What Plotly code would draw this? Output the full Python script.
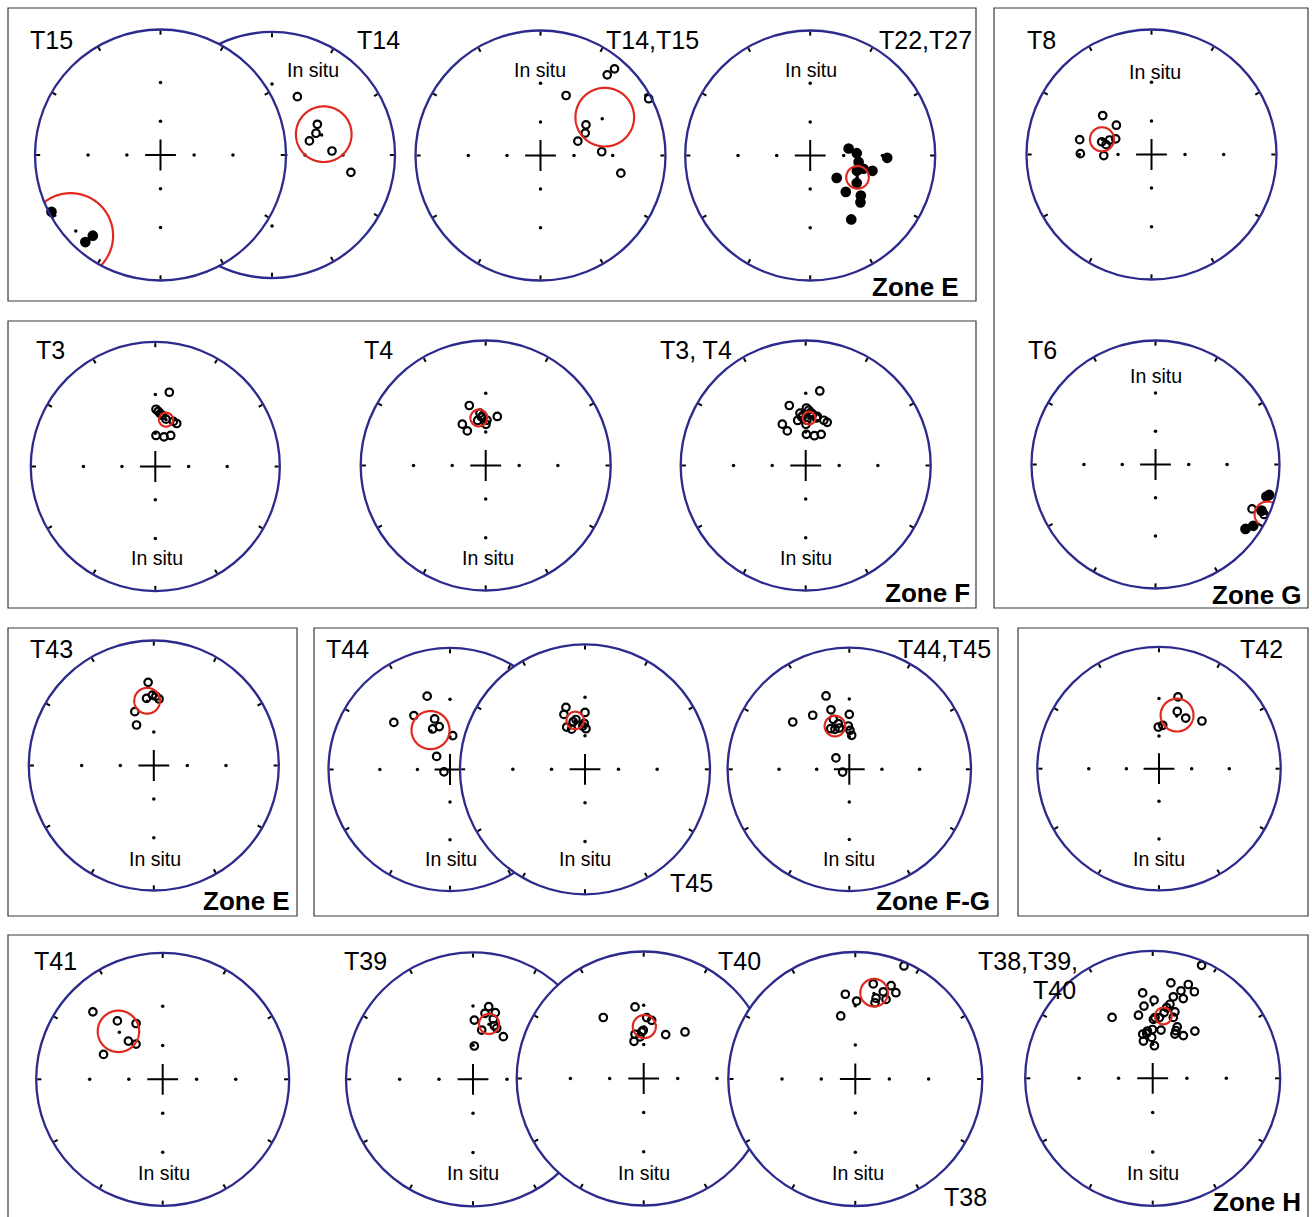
import math
import numpy as np
import plotly.graph_objects as go

# ---------------- DATA (declination, inclination in degrees; negative inc = upper hemisphere) ----------
T15_dec = [242.5, 220.0, 220.8]
T15_inc = [1.2, 10.0, 5.0]
T15_mean = [228.1, 5.6, 20.5]          # dec, inc, alpha95

T14_dec = [23.5, 55.9, 63.7, 69.4, 86.2, 102.4]
T14_inc = [-35.3, -42.0, -46.5, -54.0, -37.9, -23.4]
T14_mean = [68.1, -43.0, 21.4]

T14T15_dec = [39.6, 40.5, 23.1, 62.3, 56.0, 63.4, 69.0, 86.5, 102.4]
T14T15_inc = [-10.1, -5.3, -34.9, -1.3, -42.6, -46.4, -54.5, -37.7, -23.3]
T14T15_mean = [59.2, -30.2, 19.8]

T22T27_dec = [79.7, 87.2, 91.7, 97.8, 104.0, 108.2, 103.8, 130.2, 120.6, 135.6, 128.3, 133.0, 147.3]
T22T27_inc = [55.3, 49.1, 26.7, 47.3, 42.6, 47.1, 35.7, 59.0, 43.2, 45.7, 35.4, 32.4, 27.4]
T22T27_mean = [114.8, 45.0, 8.8]

T8_dec = [308.6, 309.8, 281.7, 284.3, 282.2, 289.1, 293.6, 270.7, 268.7]
T8_inc = [-36.9, -49.8, -29.2, -45.3, -49.2, -50.9, -55.3, -30.7, -48.2]
T8_mean = [287.1, -45.3, 9.4]

T6_dec = [105.0, 106.1, 114.7, 113.5, 114.7, 122.1, 125.6]
T6_inc = [3.0, 4.1, -8.8, 4.0, -2.1, 4.1, 6.5]
T6_mean = [114.0, -1.0, 6.0]

T3_dec = [10.7, 0.7, 3.1, 5.4, 7.8, 12.7, 21.8, 26.5, 1.3, 16.3, 26.4]
T3_inc = [-27.5, -40.6, -42.2, -43.8, -45.0, -47.4, -47.4, -47.8, -62.0, -62.1, -58.9]
T3_mean = [12.9, -47.9, 5.6]

T4_dec = [344.7, 353.8, 356.6, 355.3, 0.4, 330.5, 332.0, 13.3, 1.6, 349.9]
T4_inc = [-37.1, -44.3, -46.4, -47.6, -53.5, -48.4, -55.2, -46.1, -50.2, -49.8]
T4_mean = [351.8, -48.1, 6.7]

T3T4_mean = [4.1, -48.4, 5.1]

T43_dec = [356.1, 353.8, 358.9, 1.7, 4.5, 340.6, 336.9]
T43_inc = [-22.6, -33.2, -31.2, -32.0, -33.8, -40.9, -51.2]
T43_mean = [354.1, -35.4, 9.3]

T44_dec = [342.7, 326.2, 310.0, 343.1, 345.9, 336.8, 4.6, 314.3, 249.0]
T44_inc = [-25.4, -33.8, -27.8, -43.0, -50.0, -50.1, -58.8, -72.5, -83.9]
T44_mean = [333.7, -51.0, 15.8]

T45_dec = [342.9, 339.0, 0.0, 349.7, 346.1, 359.0, 336.5, 341.6, 1.4, 357.0]
T45_inc = [-35.2, -39.6, -41.1, -45.9, -47.2, -49.7, -49.6, -52.6, -54.0, -51.8]
T45_mean = [348.7, -46.7, 6.9]

T44T45_dec = [342.4, 325.9, 309.9, 342.9, 0.0, 342.3, 346.4, 358.7, 1.0, 4.0, 335.4, 340.3, 346.4, 310.4, 247.8]
T44T45_inc = [-25.4, -33.6, -27.6, -35.8, -41.4, -43.4, -47.8, -50.8, -54.5, -58.7, -49.7, -51.5, -51.5, -73.6, -83.2]
T44T45_mean = [341.6, -49.2, 8.5]

T42_dec = [14.8, 17.7, 27.8, 42.0, 359.0, 4.9]
T42_inc = [-27.2, -37.4, -39.6, -34.4, -52.2, -50.6]
T42_mean = [18.6, -40.8, 12.7]

T41_dec = [314.0, 322.2, 334.5, 318.1, 322.9, 292.8]
T41_inc = [-15.0, -29.4, -37.9, -45.8, -51.5, -36.2]
T41_mean = [317.3, -36.4, 14.8]

T39_dec = [12.2, 10.3, 18.5, 18.6, 1.3, 10.0, 24.9, 35.4, 2.2, 21.7]
T39_inc = [-29.3, -34.3, -32.1, -36.8, -40.0, -47.0, -42.2, -45.2, -60.6, -41.2]
T39_mean = [16.2, -41.4, 7.5]

T40_dec = [353.1, 326.5, 2.8, 7.8, 359.5, 348.9, 354.9, 345.4, 26.6, 41.6, 357.5]
T40_inc = [-30.8, -30.1, -38.7, -40.4, -48.4, -50.9, -53.6, -56.3, -47.7, -37.8, -49.7]
T40_mean = [0.7, -45.8, 8.9]

T38_dec = [23.3, 10.7, 21.0, 25.2, 17.8, 353.3, 1.0, 14.4, 21.1, 14.5, 347.0]
T38_inc = [-1.8, -15.4, -13.6, -16.2, -18.4, -22.2, -26.9, -23.4, -22.2, -26.4, -36.0]
T38_mean = [12.3, -20.8, 8.4]

T383940_dec = [23.4, 10.8, 20.8, 353.3, 17.9, 25.7, 1.0, 14.2, 21.0, 353.1, 13.1, 347.3, 326.3,
               9.8, 18.5, 0.7, 6.3, 18.7, 25.5, 26.0, 359.6, 9.8, 41.8, 353.6, 347.3, 26.7, 35.7,
               358.6, 346.0, 3.0, 352.4, 2.2, 11.2]
T383940_inc = [-2.0, -15.4, -13.6, -22.0, -18.4, -16.0, -27.0, -23.2, -22.4, -30.6, -28.4, -36.2, -30.3,
               -34.8, -32.4, -40.4, -38.8, -36.5, -41.8, -44.9, -48.1, -48.0, -37.2, -49.1, -50.9, -47.6, -45.2,
               -54.4, -56.5, -61.3, -50.9, -39.0, -31.0]
T383940_mean = [9.7, -37.4, 6.0]

NET_GRID_INC = [60, 30]              # reference dots along the cardinal axes
NET_GRID_DEC = [0, 90, 180, 270]

# ---------------- LAYOUT TABLE (pixel centre, radius) ----------------
W, H = 1312, 1217
NAVY = "#2c2a8c"
RED = "#e0281e"
FONT = "Liberation Sans, Arial, sans-serif"

# order matters: later nets are drawn over earlier ones
nets = [
    ("T14", T14_dec, T14_inc, T14_mean, (272, 155, 123)),
    ("T15", T15_dec, T15_inc, T15_mean, (160.5, 155, 125.5)),
    ("T44", T44_dec, T44_inc, T44_mean, (450, 769.5, 121.5)),
    ("T45", T45_dec, T45_inc, T45_mean, (585, 769.3, 125)),
    ("T39", T39_dec, T39_inc, T39_mean, (473, 1079.3, 127)),
    ("T40", T40_dec, T40_inc, T40_mean, (643.7, 1078.5, 127)),
    ("T38", T38_dec, T38_inc, T38_mean, (855.3, 1079, 127)),
    ("T14,T15", T14T15_dec, T14T15_inc, T14T15_mean, (540.5, 155.5, 125)),
    ("T22,T27", T22T27_dec, T22T27_inc, T22T27_mean, (810.2, 155.5, 125)),
    ("T8", T8_dec, T8_inc, T8_mean, (1151.5, 154.5, 125)),
    ("T6", T6_dec, T6_inc, T6_mean, (1155.5, 464.5, 124)),
    ("T3", T3_dec, T3_inc, T3_mean, (155.3, 466.5, 124.5)),
    ("T4", T4_dec, T4_inc, T4_mean, (485.7, 465.5, 125)),
    ("T3, T4", T3_dec + T4_dec, T3_inc + T4_inc, T3T4_mean, (805.7, 465.5, 125)),
    ("T43", T43_dec, T43_inc, T43_mean, (153.8, 765.5, 125)),
    ("T44,T45", T44T45_dec, T44T45_inc, T44T45_mean, (849.3, 769.3, 121.7)),
    ("T42", T42_dec, T42_inc, T42_mean, (1159, 768.7, 121.7)),
    ("T41", T41_dec, T41_inc, T41_mean, (162.7, 1079.3, 126.5)),
    ("T38,T39,T40", T383940_dec, T383940_inc, T383940_mean, (1152.7, 1078.3, 127.5)),
]


def proj(inc):
    """Stereographic (equal-angle) radial distance for an inclination."""
    return math.tan(math.radians((90.0 - abs(inc)) / 2.0))


def small_circle(dec, inc, a95, n=361):
    D, I, a = math.radians(dec), math.radians(inc), math.radians(a95)
    m = np.array([math.cos(I) * math.cos(D), math.cos(I) * math.sin(D), math.sin(I)])
    ref = np.array([0.0, 0.0, 1.0]) if abs(m[2]) < 0.9 else np.array([1.0, 0.0, 0.0])
    u = np.cross(m, ref)
    u /= np.linalg.norm(u)
    v = np.cross(m, u)
    sign = 1 if inc >= 0 else -1
    rr, th = [], []
    for t in np.linspace(0, 2 * np.pi, n):
        p = math.cos(a) * m + math.sin(a) * (math.cos(t) * u + math.sin(t) * v)
        pi = math.degrees(math.asin(max(-1.0, min(1.0, p[2]))))
        pd = math.degrees(math.atan2(p[1], p[0])) % 360
        if pi * sign < -1e-9:
            rr.append(None)
            th.append(None)
        else:
            rr.append(proj(pi))
            th.append(pd)
    return rr, th


fig = go.Figure()
layout_polars = {}

for k, (name, decs, incs, mean, (cx, cy, R)) in enumerate(nets):
    pid = "polar" if k == 0 else f"polar{k + 1}"
    layout_polars[pid] = dict(
        domain=dict(x=[(cx - R) / W, (cx + R) / W], y=[1 - (cy + R) / H, 1 - (cy - R) / H]),
        bgcolor="white",
        radialaxis=dict(visible=False, range=[0, 1]),
        angularaxis=dict(rotation=90, direction="clockwise", dtick=30, ticks="inside",
                         ticklen=4, tickwidth=1.6, tickcolor="black", showticklabels=False,
                         showgrid=False, showline=True, linecolor=NAVY, linewidth=2.3),
    )
    # reference dots
    g_r, g_t = [], []
    for d in NET_GRID_DEC:
        for i in NET_GRID_INC:
            g_r.append(proj(i))
            g_t.append(d)
    fig.add_trace(go.Scatterpolar(r=g_r, theta=g_t, mode="markers", subplot=pid,
                                  marker=dict(size=3.5, color="black", opacity=1),
                                  hoverinfo="skip", showlegend=False))
    # centre cross
    fig.add_trace(go.Scatterpolar(r=[0], theta=[0], mode="markers", subplot=pid,
                                  marker=dict(symbol="cross-thin", size=22, color="black", opacity=1,
                                              line=dict(width=2, color="black")),
                                  hoverinfo="skip", showlegend=False))
    # directions
    fig.add_trace(go.Scatterpolar(
        r=[proj(i) for i in incs], theta=decs, mode="markers", subplot=pid,
        marker=dict(symbol=["circle" if i > 0 else "circle-open" for i in incs],
                    size=[8.5 if i > 0 else 7.5 for i in incs], color="black", opacity=1,
                    line=dict(width=2.2, color="black")),
        hoverinfo="skip", showlegend=False))
    # alpha95 circle
    cr, ct = small_circle(*mean)
    fig.add_trace(go.Scatterpolar(r=cr, theta=ct, mode="lines", subplot=pid, connectgaps=False,
                                  line=dict(color=RED, width=2.2), hoverinfo="skip", showlegend=False))
    # mean
    fig.add_trace(go.Scatterpolar(r=[proj(mean[1])], theta=[mean[0]], mode="markers", subplot=pid,
                                  marker=dict(size=3.5, color="black", opacity=1),
                                  hoverinfo="skip", showlegend=False))

# ---------------- frames ----------------
frames = [(8, 8, 976, 301), (994, 8, 1308, 608), (8, 321, 976, 608), (8, 628, 297, 916),
          (314, 628, 998, 916), (1018, 628, 1308, 916), (8, 935, 1308, 1219)]
shapes = [dict(type="rect", xref="paper", yref="paper", x0=x0 / W, x1=x1 / W,
               y0=1 - y1 / H, y1=1 - y0 / H, line=dict(color="#3a3a3a", width=1.2), layer="below")
          for (x0, y0, x1, y1) in frames]

# ---------------- texts ----------------
labels = [("T15", 51, 40), ("T14", 378, 40), ("T14,T15", 652, 40), ("T22,T27", 925, 40),
          ("T8", 1041, 40), ("T6", 1042, 350), ("T3", 50, 350), ("T4", 378, 350), ("T3, T4", 696, 350),
          ("T43", 51, 649), ("T44", 347, 649), ("T45", 691, 883), ("T44,T45", 944, 649), ("T42", 1261, 649),
          ("T41", 55, 961), ("T39", 365, 961), ("T40", 739, 961), ("T38", 965, 1197),
          ("T38,T39,", 1028, 961), ("T40", 1054, 990)]
insitu = [(313, 70), (540, 70), (811, 70), (1155, 72), (1156, 376), (157, 558), (488, 558), (806, 558),
          (155, 859), (451, 859), (585, 859), (849, 859), (1159, 859), (164, 1173), (473, 1173),
          (644, 1173), (858, 1173), (1153, 1173)]
zones = [("Zone E", 916, 287), ("Zone G", 1257, 595), ("Zone F", 927, 593), ("Zone E", 246, 901),
         ("Zone F-G", 933, 901), ("Zone H", 1257, 1202)]

ann = []
for t, x, y in labels:
    ann.append(dict(text=t, x=x / W, y=1 - y / H, xref="paper", yref="paper", showarrow=False,
                    xanchor="center", yanchor="middle", font=dict(family=FONT, size=25, color="black")))
for x, y in insitu:
    ann.append(dict(text="In situ", x=x / W, y=1 - y / H, xref="paper", yref="paper", showarrow=False,
                    xanchor="center", yanchor="middle", font=dict(family=FONT, size=19.5, color="black")))
for t, x, y in zones:
    ann.append(dict(text=f"<b>{t}</b>", x=x / W, y=1 - y / H, xref="paper", yref="paper", showarrow=False,
                    xanchor="center", yanchor="middle", font=dict(family=FONT, size=26, color="black")))

fig.update_layout(width=W, height=H, margin=dict(l=0, r=0, t=0, b=0), paper_bgcolor="white",
                  plot_bgcolor="white", showlegend=False, shapes=shapes, annotations=ann, **layout_polars)

fig.write_html("out.html", config={"displayModeBar": False},
               post_script="document.body.style.margin='0';")
